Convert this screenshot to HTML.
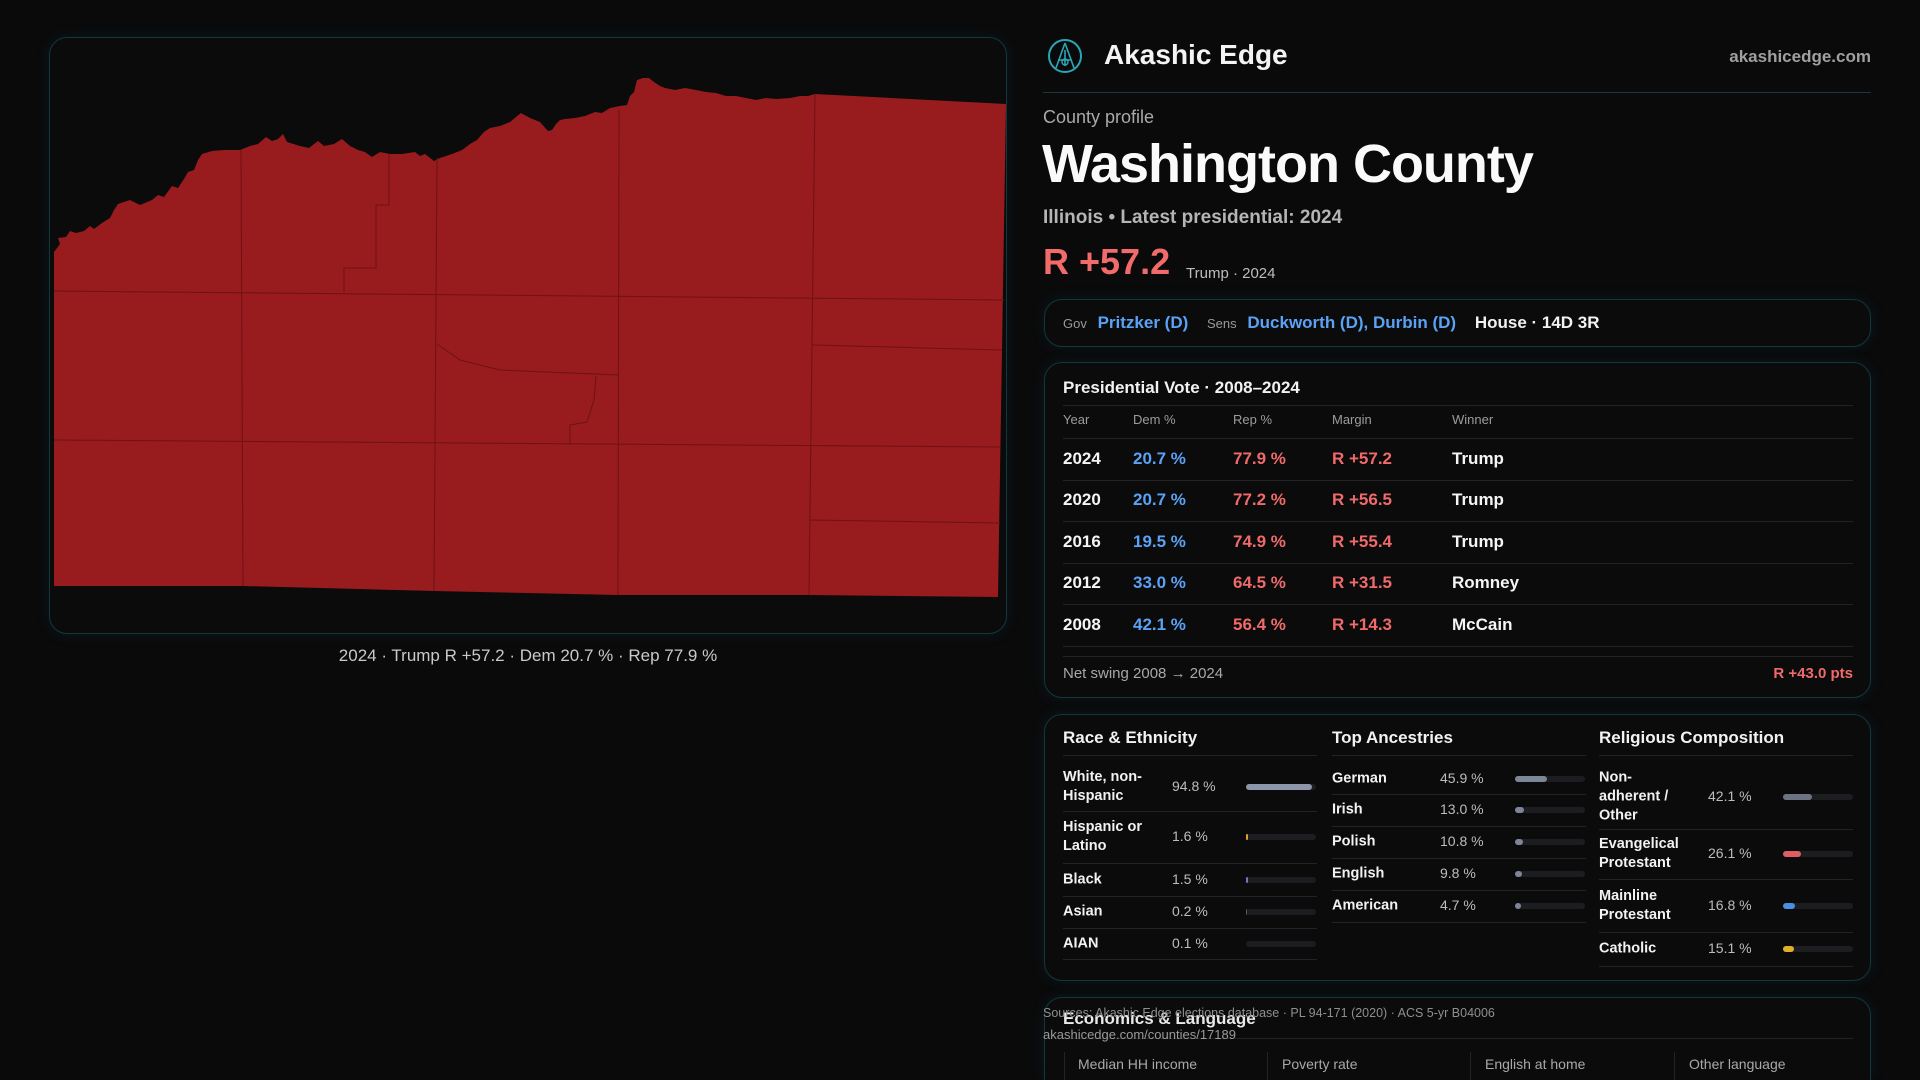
<!DOCTYPE html>
<html><head><meta charset="utf-8">
<style>
*{box-sizing:border-box;margin:0;padding:0}
html{width:1920px;height:1080px;overflow:hidden}
body{width:1920px;height:1080px;background:#0a0a0b;font-family:"Liberation Sans",sans-serif;color:#f2f2f2;position:relative;overflow:hidden}
.abs{position:absolute;white-space:nowrap}
.panel{position:absolute;border:1px solid #12373c;border-radius:18px;background:#0b0b0c;box-shadow:0 0 14px rgba(20,90,100,.18)}
.g{color:#a9a9a9}
.blue{color:#5aa2f5}
.red{color:#f06a6a}
.hl{position:absolute;height:1px;background:#232325}
</style></head><body>

<div class="panel" style="left:49px;top:37px;width:958px;height:597px;background:#0b0b0c">
</div>
<svg class="abs" style="left:0;top:0" width="1020" height="640">
<polygon fill="#981b1e" points="54,252 60,244 58,238 66,237 70,231 76,233 84,231 90,226 94,229 102,223 110,218 114,210 118,204 130,200 140,205 152,200 158,195 164,197 172,186 178,188 184,179 188,172 194,170 198,160 202,154 212,151 224,150 240,150 250,146 258,144 266,137 272,141 278,139 283,134 287,142 300,146 309,148 318,141 324,146 334,144 342,139 350,146 358,150 365,152 372,157 380,152 390,154 402,154 415,152 420,156 425,154 434,161 440,158 452,154 462,150 470,144 477,140 484,132 490,128 500,126 510,122 516,117 521,113 530,118 540,122 548,131 552,130 556,124 560,120 565,119 575,118 585,116 595,112 602,113 610,108 620,106 627,105 630,96 634,92 637,80 643,78 649,78 654,82 660,86 665,88 675,90 685,88 696,90 706,92 716,93 726,96 736,96 746,98 756,100 766,98 776,99 790,98 800,96 808,96 815,94 1006,104 998,597 809,595 618,595 434,591 243,586 54,586"/>
<g stroke="#6e1214" stroke-width="1" fill="none">
<line x1="241" y1="150" x2="243" y2="586"/>
<line x1="389" y1="154" x2="389" y2="205"/>
<polyline points="389,205 376,205 376,268 344,268 344,292"/>
<line x1="437" y1="158" x2="434" y2="591"/>
<line x1="619" y1="110" x2="618" y2="595"/>
<line x1="815" y1="94" x2="809" y2="595"/>
<line x1="54" y1="291" x2="1004" y2="300"/>
<line x1="54" y1="440" x2="1000" y2="447"/>
<line x1="812" y1="345" x2="1002" y2="350"/>
<line x1="810" y1="520" x2="1000" y2="523"/>
<polyline points="437,344 460,360 500,370 618,375"/>
<polyline points="596,376 594,400 587,422 570,425 570,445"/>
</g>
</svg>
<div class="abs" style="left:49px;width:958px;top:646px;text-align:center;font-size:17px;color:#c9c9c9">2024 · Trump R +57.2 · Dem 20.7 % · Rep 77.9 %</div>

<svg class="abs" style="left:1047px;top:38px" width="36" height="36" viewBox="0 0 36 36">
<circle cx="18" cy="18" r="16" fill="none" stroke="#2aa7b5" stroke-width="2"/>
<path d="M18 5 L9 30 M18 5 L27 30 M11 22 L25 22 M18 12 L18 28" stroke="#2aa7b5" stroke-width="1.6" fill="none"/>
<circle cx="18" cy="24" r="3" fill="none" stroke="#2aa7b5" stroke-width="1.4"/>
</svg>
<div class="abs" style="left:1104px;top:39px;font-size:28px;font-weight:bold;color:#f4f4f4">Akashic Edge</div>
<div class="abs g" style="right:49px;top:47px;font-size:17px;font-weight:bold;color:#a0a0a0">akashicedge.com</div>
<div class="abs" style="left:1043px;top:92px;width:828px;height:1px;background:#173a3f"></div>

<div class="abs g" style="left:1043px;top:107px;font-size:18px">County profile</div>
<div class="abs" style="left:1042px;top:133px;font-size:54px;font-weight:bold;color:#fafafa;letter-spacing:-1px">Washington County</div>
<div class="abs g" style="left:1043px;top:207px;font-size:19px;font-weight:bold;color:#b5b5b5">Illinois • Latest presidential: 2024</div>
<div class="abs red" style="left:1043px;top:241px;font-size:36px;font-weight:bold;color:#f26b6b">R +57.2</div>
<div class="abs g" style="left:1186px;top:265px;font-size:15px;color:#bdbdbd">Trump · 2024</div>

<div class="panel" style="left:1044px;top:299px;width:827px;height:48px"></div>
<div class="abs" style="left:1063px;top:313px;font-size:17px">
<span class="g" style="font-size:13px;color:#9a9a9a">Gov</span>
<span class="blue" style="margin-left:6px;font-weight:bold">Pritzker (D)</span>
<span class="g" style="font-size:13px;margin-left:14px;color:#9a9a9a">Sens</span>
<span class="blue" style="margin-left:6px;font-weight:bold">Duckworth (D), Durbin (D)</span>
<span style="margin-left:14px;font-weight:bold">House · 14D 3R</span>
</div>

<div class="panel" style="left:1044px;top:362px;width:827px;height:336px"></div>
<div class="abs" style="left:1063px;top:378px;font-size:17px;font-weight:bold">Presidential Vote · 2008–2024</div>
<div class="hl" style="left:1063px;top:405px;width:790px"></div>
<div id="ptable"></div>
<div class="hl" style="left:1063px;top:656px;width:790px"></div>
<div class="abs g" style="left:1063px;top:665px;font-size:15px;color:#a8a8a8">Net swing 2008 → 2024</div>
<div class="abs red" style="right:67px;top:665px;font-size:15px;font-weight:bold">R +43.0 pts</div>

<div class="panel" style="left:1044px;top:714px;width:827px;height:267px"></div>
<div id="demo"></div>

<div class="panel" style="left:1044px;top:997px;width:827px;height:83px;border-bottom:none;border-radius:18px 18px 0 0"></div>
<div class="abs" style="left:1063px;top:1009px;font-size:17px;font-weight:bold;color:#eaeaea">Economics &amp; Language</div>
<div class="hl" style="left:1063px;top:1038px;width:790px"></div>
<div class="abs" style="left:1064px;top:1052px;width:1px;height:28px;background:#232325"></div>
<div class="abs" style="left:1267px;top:1052px;width:1px;height:28px;background:#232325"></div>
<div class="abs" style="left:1470px;top:1052px;width:1px;height:28px;background:#232325"></div>
<div class="abs" style="left:1674px;top:1052px;width:1px;height:28px;background:#232325"></div>
<div class="abs g" style="left:1078px;top:1056px;font-size:14px">Median HH income</div>
<div class="abs g" style="left:1282px;top:1056px;font-size:14px">Poverty rate</div>
<div class="abs g" style="left:1485px;top:1056px;font-size:14px">English at home</div>
<div class="abs g" style="left:1689px;top:1056px;font-size:14px">Other language</div>
<div class="abs" style="left:1043px;top:1006px;font-size:12.5px;color:#8f8f8f">Sources: Akashic Edge elections database · PL 94-171 (2020) · ACS 5-yr B04006</div>
<div class="abs" style="left:1043px;top:1027px;font-size:13px;color:#9a9a9a">akashicedge.com/counties/17189</div>

<script>
const years=["2024","2020","2016","2012","2008"];
const demPct=[20.7,20.7,19.5,33.0,42.1];
const repPct=[77.9,77.2,74.9,64.5,56.4];
const winners=["Trump","Trump","Trump","Romney","McCain"];

const raceLabels=["White, non-Hispanic","Hispanic or Latino","Black","Asian","AIAN"];
const raceValues=[94.8,1.6,1.5,0.2,0.1];
const ancLabels=["German","Irish","Polish","English","American"];
const ancValues=[45.9,13.0,10.8,9.8,4.7];
const relLabels=["Non-adherent / Other","Evangelical Protestant","Mainline Protestant","Catholic"];
const relValues=[42.1,26.1,16.8,15.1];

function el(parent,css,text){const d=document.createElement('div');d.className='abs';d.style.cssText=css;if(text!==undefined)d.textContent=text;parent.appendChild(d);return d;}
const root=document.body;

const hdr=[["Year",1063],["Dem %",1133],["Rep %",1233],["Margin",1332],["Winner",1452]];
hdr.forEach(h=>{const d=el(root,`left:${h[1]}px;top:412px;font-size:13px;color:#9c9c9c`,h[0]);

});
el(root,'left:1063px;top:438px;width:790px;height:1px;background:#232325');
const rowTop=438,rowH=41.5;
years.forEach((y,i)=>{
 const cy=rowTop+rowH*i+rowH/2;
 const m=repPct[i]-demPct[i];
 const cells=[[y,1063,'#f5f5f5'],[demPct[i].toFixed(1)+' %',1133,'#5aa2f5'],[repPct[i].toFixed(1)+' %',1233,'#f06a6a'],[(m>=0?'R +':'D +')+Math.abs(m).toFixed(1),1332,'#f06a6a'],[winners[i],1452,'#f5f5f5']];
 cells.forEach(c=>{const d=el(root,`left:${c[1]}px;top:${cy-10}px;font-size:17px;font-weight:bold;color:${c[2]}`,c[0]);
 
 });
 const l=el(root,`left:1063px;top:${rowTop+rowH*(i+1)}px;width:790px;height:1px;background:#232325`);
 
 
});

function section(title,x,labels,values,colors,rowBounds,valX,barX,wrapW){
 const t=el(root,`left:${x}px;top:728px;font-size:17px;font-weight:bold`,title);
 
 
 el(root,`left:${x}px;top:755px;width:254px;height:1px;background:#232325`);
 labels.forEach((lab,i)=>{
  const top=rowBounds[i],bot=rowBounds[i+1],cy=(top+bot)/2;
  const lb=el(root,`left:${x}px;top:${cy}px;transform:translateY(-50%);font-size:14.5px;font-weight:bold;line-height:19px;white-space:normal;width:${wrapW}px`,lab);
  
  
  const v=el(root,`left:${valX}px;top:${cy-9}px;font-size:14px;color:#bdbdbd`,values[i].toFixed(1)+' %');
  
  
  const bg=el(root,`left:${barX}px;top:${cy-3}px;width:70px;height:6px;border-radius:3px;background:#1c1d20`);
  
  
  const w=Math.max(values[i]/100*70, values[i]>=2?6:(values[i]>=1?2:0));
  const fg=document.createElement('div');
  fg.style.cssText=`position:absolute;left:0;top:0;height:6px;border-radius:3px;width:${w}px;background:${colors[i]}`;
  
  
  bg.appendChild(fg);
  el(root,`left:${x}px;top:${bot}px;width:254px;height:1px;background:#232325`);
 });
}
section("Race & Ethnicity",1063,raceLabels,raceValues,["#8d96a8","#e0a030","#7b6fd0","#555","#555"],[763,811,863,896,928,959],1172,1246,100);
section("Top Ancestries",1332,ancLabels,ancValues,["#7d8698","#7d8698","#7d8698","#7d8698","#7d8698"],[763,794,826,858,890,922],1440,1515,100);
section("Religious Composition",1599,relLabels,relValues,["#6d7382","#e05e63","#4a8fe0","#e0b02a"],[765,829,879,932,966],1708,1783,90);
</script>
</body></html>
